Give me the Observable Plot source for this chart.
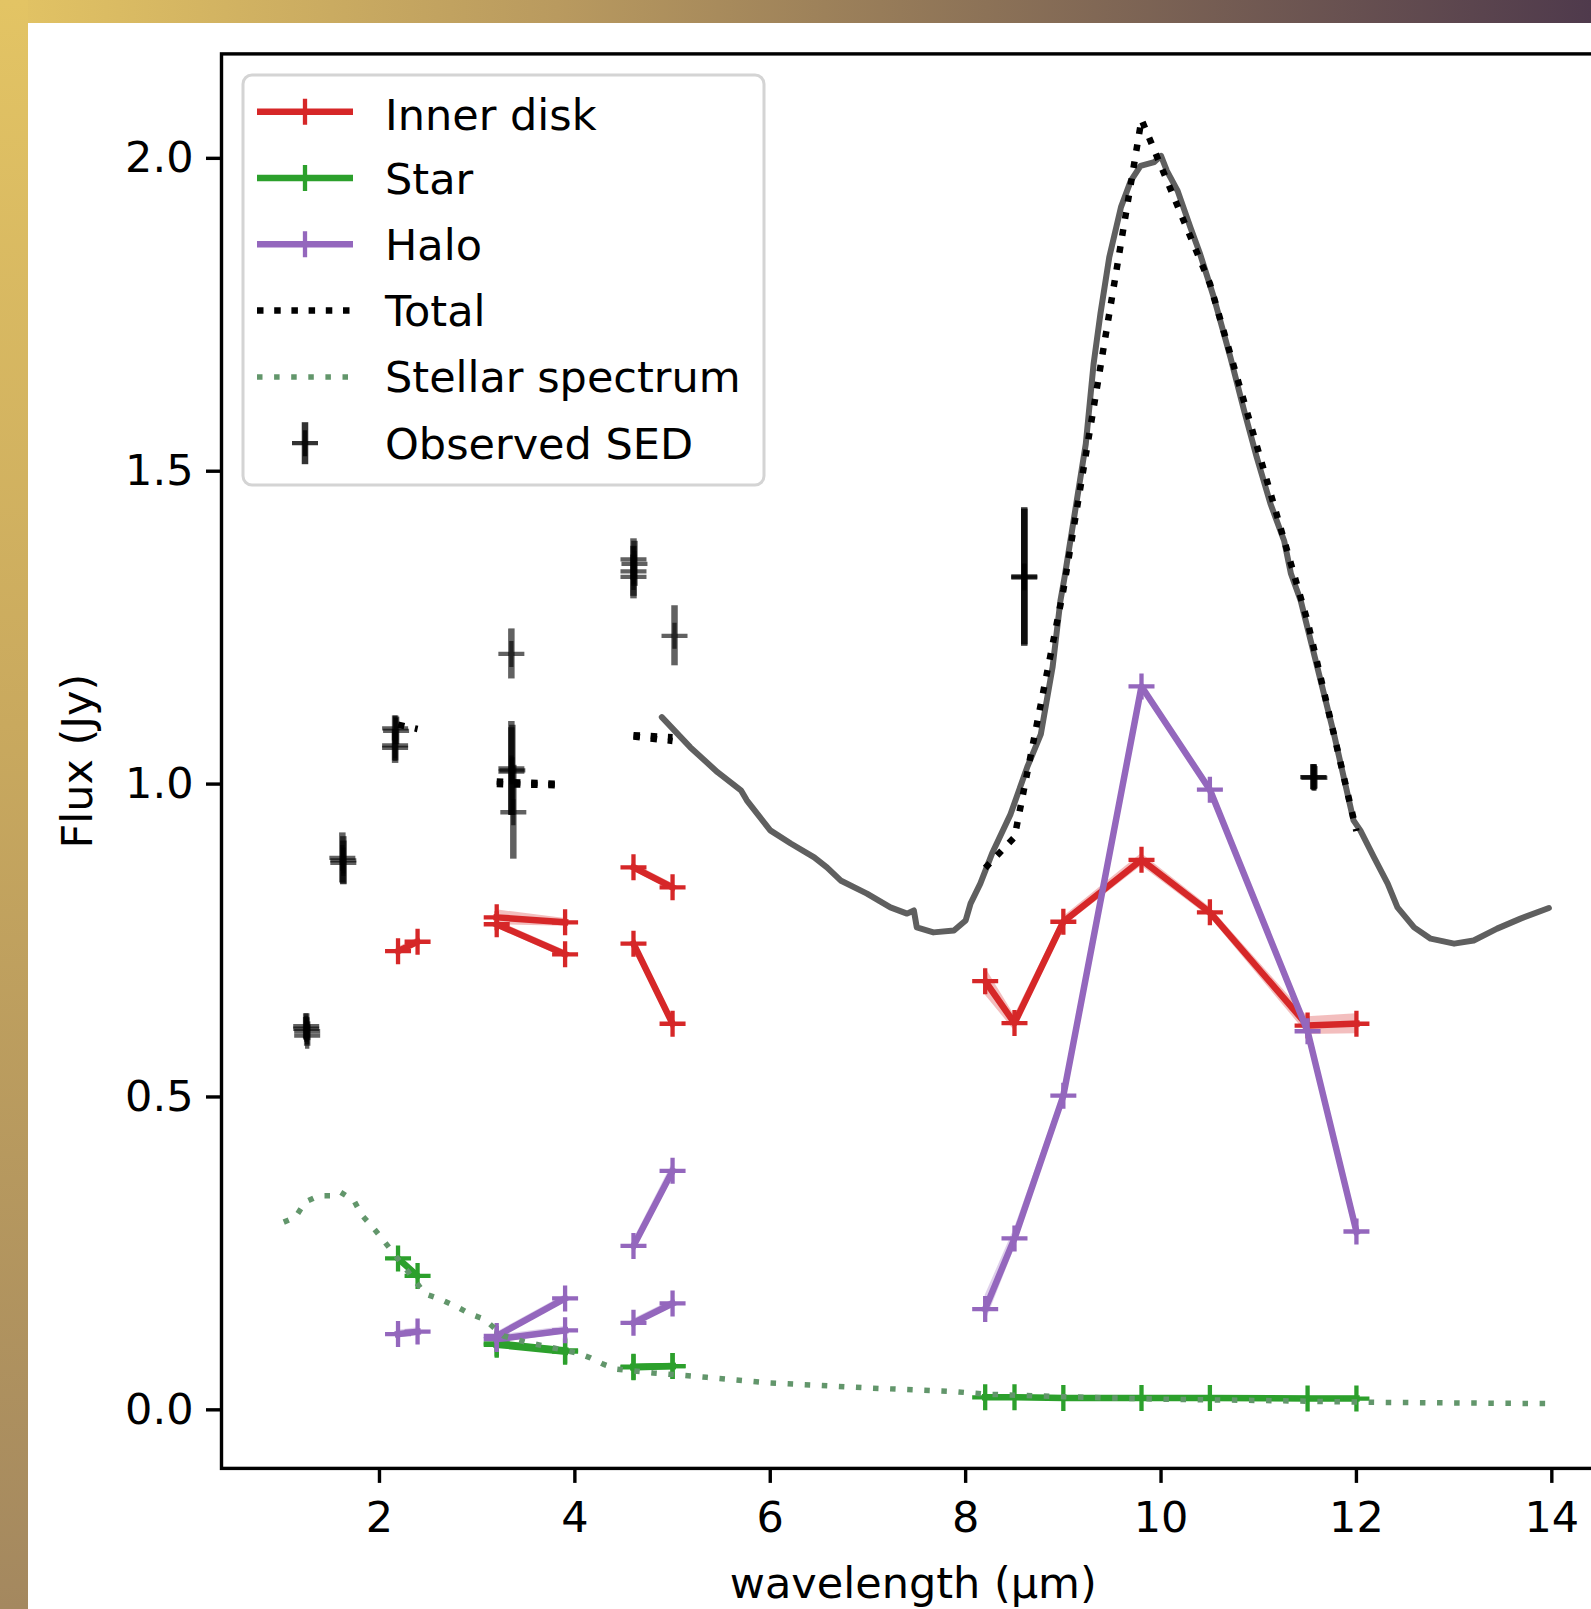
<!DOCTYPE html>
<html>
<head>
<meta charset="utf-8">
<script src="https://cdn.jsdelivr.net/npm/d3@7"></script>
<script src="https://cdn.jsdelivr.net/npm/@observablehq/plot@0.6"></script>
<style>
  html, body { margin: 0; padding: 0; background: #fff; overflow: hidden; width: 1591px; height: 1609px; }
  #wrap { position: relative; width: 1591px; height: 1609px; overflow: hidden; background: #fff; }
  #chart { position: absolute; left: 0; top: 0; width: 1650px; height: 1609px; }
  #chart svg { max-width: none !important; width: 1650px; height: 1609px; }
  #overlay { position: absolute; left: 0; top: 0; pointer-events: none; }
  #topbar { position: absolute; left: 0; top: 0; width: 1591px; height: 23px; z-index: 5;
            background: linear-gradient(to right, #e3c464 0%, #b99a5f 35%, #8c7257 62%, #4f3a4c 100%); }
  #leftbar { position: absolute; left: 0; top: 0; width: 28px; height: 1609px; z-index: 6;
             background: linear-gradient(to bottom, #e3c464 0%, #c9a95e 45%, #a4885f 100%); }
</style>
</head>
<body>
<div id="wrap">
  <div id="chart"></div>
  <svg id="overlay" width="1591" height="1609"></svg>
  <div id="topbar"></div>
  <div id="leftbar"></div>
</div>
<script>
// ---------------- DATA ----------------
// Wavelength grids of the model bands (µm)
const wlK = [2.19, 2.39];
const wlL = [3.2, 3.9];
const wlM = [4.6, 5.0];
const wlN = [8.2, 8.5, 9.0, 9.8, 10.5, 11.5, 12.0];

// Inner disk flux (Jy) and half-width of the shaded band
const innerK = [0.733, 0.748];
const innerLa = [0.787, 0.779];
const innerLb = [0.776, 0.728];
const innerMa = [0.867, 0.835];
const innerMb = [0.745, 0.617];
const innerN = [0.685, 0.618, 0.780, 0.879, 0.795, 0.614, 0.617];
const innerKErr = [0.006, 0.006];
const innerLaErr = [0.012, 0.006];
const innerLbErr = [0.006, 0.006];
const innerMaErr = [0.006, 0.006];
const innerMbErr = [0.006, 0.008];
const innerNErr = [0.022, 0.012, 0.008, 0.010, 0.008, 0.014, 0.016];

// Star flux (Jy)
const starK = [0.242, 0.214];
const starLa = [0.106, 0.095];
const starLb = [0.104, 0.093];
const starMa = [0.068, 0.070];
const starMb = [0.069, 0.070];
const starN = [0.020, 0.020, 0.019, 0.019, 0.019, 0.018, 0.018];
const starErr2 = [0.004, 0.004];
const starNErr = [0.004, 0.004, 0.004, 0.004, 0.004, 0.004, 0.004];

// Halo flux (Jy)
const haloK = [0.121, 0.125];
const haloLa = [0.113, 0.127];
const haloLb = [0.118, 0.178];
const haloMa = [0.139, 0.170];
const haloMb = [0.262, 0.382];
const haloN = [0.161, 0.274, 0.502, 1.156, 0.991, 0.605, 0.285];
const haloErr2 = [0.006, 0.006];
const haloMbErr = [0.010, 0.012];
const haloNErr = [0.022, 0.016, 0.008, 0.008, 0.006, 0.006, 0.006];

// Total model (Jy)
const totalK = [1.095, 1.088];
const totalLa = [1.004, 1.000];
const totalLb = [1.000, 0.998];
const totalMa = [1.078, 1.075];
const totalMb = [1.076, 1.069];
const totalN = [0.866, 0.915, 1.310, 2.062, 1.800, 1.260, 0.925];

// Stellar spectrum (dotted)
const stelWl = [1.02, 1.14, 1.24, 1.38, 1.50, 1.60, 1.74, 1.82, 1.93, 2.03, 2.47, 2.62, 2.80, 2.93, 3.07,
                3.27, 3.50, 3.75, 4.02, 4.16, 4.29, 4.43, 4.80, 5.20, 5.35, 6.00, 7.00, 7.90, 8.20, 9.00,
                10.00, 11.00, 12.20, 13.00, 14.00];
const stelFlux = [0.300, 0.308, 0.332, 0.342, 0.342, 0.348, 0.334, 0.311, 0.292, 0.273, 0.185, 0.177, 0.164, 0.153, 0.145,
                  0.118, 0.108, 0.100, 0.091, 0.083, 0.073, 0.065, 0.059, 0.054, 0.052, 0.043, 0.035, 0.029, 0.025, 0.021,
                  0.017, 0.015, 0.012, 0.011, 0.010];

// Observed mid-IR spectrum (grey line)
const specWl = [4.89, 5.18, 5.46, 5.70, 5.76, 5.87, 6.00, 6.21, 6.45, 6.58, 6.72, 6.99, 7.23, 7.40, 7.47, 7.50,
                7.67, 7.88, 8.00, 8.05, 8.15, 8.27, 8.46, 8.63, 8.77, 8.89, 8.97, 9.01, 9.11, 9.23, 9.31,
                9.38, 9.47, 9.59, 9.69, 9.79, 9.93, 10.00, 10.06, 10.17, 10.30, 10.40, 10.54, 10.71, 10.85,
                10.98, 11.12, 11.26, 11.33, 11.43, 11.77, 11.97, 12.04, 12.18, 12.32, 12.42, 12.59, 12.76,
                13.00, 13.20, 13.44, 13.68, 13.97];
const specFlux = [1.107, 1.059, 1.019, 0.990, 0.974, 0.952, 0.926, 0.905, 0.883, 0.867, 0.846, 0.825, 0.803, 0.793, 0.798, 0.771,
                  0.763, 0.766, 0.782, 0.809, 0.841, 0.889, 0.952, 1.027, 1.080, 1.187, 1.293, 1.328, 1.426, 1.544, 1.672,
                  1.752, 1.842, 1.922, 1.964, 1.988, 1.994, 2.004, 1.980, 1.948, 1.890, 1.847, 1.778, 1.682, 1.597,
                  1.522, 1.448, 1.389, 1.336, 1.293, 1.080, 0.942, 0.926, 0.883, 0.841, 0.803, 0.771, 0.753,
                  0.745, 0.750, 0.769, 0.785, 0.802];

// Observed SED photometry (µm, Jy, 1σ) — repeated epochs overlap and look darker
const sedWl   = [1.25, 1.26, 1.26, 1.25,
                 1.62, 1.63, 1.63,
                 2.16, 2.16, 2.16, 2.17,
                 3.35,
                 3.35, 3.35, 3.36,
                 3.37,
                 4.60, 4.60, 4.60, 4.61,
                 5.02,
                 8.60, 8.60, 8.60,
                 11.56, 11.56, 11.57];
const sedFlux = [0.613, 0.598, 0.605, 0.609,
                 0.882, 0.874, 0.878,
                 1.089, 1.062, 1.058, 1.085,
                 1.208,
                 1.025, 1.020, 1.022,
                 0.955,
                 1.359, 1.340, 1.331, 1.352,
                 1.237,
                 1.332, 1.330, 1.331,
                 1.011, 1.011, 1.010];
const sedErr  = [0.020, 0.017, 0.015, 0.018,
                 0.040, 0.035, 0.038,
                 0.020, 0.025, 0.025, 0.022,
                 0.040,
                 0.075, 0.070, 0.072,
                 0.075,
                 0.033, 0.040, 0.035, 0.036,
                 0.048,
                 0.110, 0.110, 0.108,
                 0.020, 0.020, 0.018];

// Axis ticks
const xTicks = [2, 4, 6, 8, 10, 12, 14];
const yTicks = [0, 0.5, 1.0, 1.5, 2.0];

// Legend labels
const legendLabels = ["Inner disk", "Star", "Halo", "Total", "Stellar spectrum", "Observed SED"];

// ---------------- BUILD TABLES ----------------
function rowsOf(segments, name) {
  const rows = [];
  segments.forEach(([xs, ys, es], i) => {
    xs.forEach((x, j) => {
      const e = es ? es[j] : 0;
      rows.push({x, y: ys[j], lo: ys[j] - e, hi: ys[j] + e, seg: name + i});
    });
  });
  return rows;
}
const innerRows = rowsOf([[wlK, innerK, innerKErr], [wlL, innerLa, innerLaErr], [wlL, innerLb, innerLbErr],
                          [wlM, innerMa, innerMaErr], [wlM, innerMb, innerMbErr], [wlN, innerN, innerNErr]], "inner");
const starRows = rowsOf([[wlK, starK, starErr2], [wlL, starLa, starErr2], [wlL, starLb, starErr2],
                         [wlM, starMa, starErr2], [wlM, starMb, starErr2], [wlN, starN, starNErr]], "star");
const haloRows = rowsOf([[wlK, haloK, haloErr2], [wlL, haloLa, haloErr2], [wlL, haloLb, haloErr2],
                         [wlM, haloMa, haloErr2], [wlM, haloMb, haloMbErr], [wlN, haloN, haloNErr]], "halo");
const totalRows = rowsOf([[wlK, totalK], [wlL, totalLa], [wlL, totalLb], [wlM, totalMa], [wlM, totalMb], [wlN, totalN]], "total");
const stelRows = stelWl.map((x, i) => ({x, y: stelFlux[i]}));
const specRows = specWl.map((x, i) => ({x, y: specFlux[i]}));
const sedRows = sedWl.map((x, i) => ({x, y: sedFlux[i], lo: sedFlux[i] - sedErr[i], hi: sedFlux[i] + sedErr[i]}));

// matplotlib-like "+" marker (stroked)
const plusSymbol = {
  draw(context, size) {
    const r = Math.sqrt(size / Math.PI);
    context.moveTo(-r, 0); context.lineTo(r, 0);
    context.moveTo(0, -r); context.lineTo(0, r);
  }
};

const RED = "#d62728", GREEN = "#2ca02c", PURPLE = "#9467bd";
const STEL = "#62966b";
const LW = 6.5, MS = 13, MEW = 4.3;
const FONT = "DejaVu Sans, Liberation Sans, sans-serif";

function component(rows, color) {
  return [
    Plot.areaY(rows, {x: "x", y1: "lo", y2: "hi", z: "seg", fill: color, fillOpacity: 0.3, curve: "linear"}),
    Plot.line(rows, {x: "x", y: "y", z: "seg", stroke: color, strokeWidth: LW, strokeLinejoin: "round", strokeLinecap: "square"}),
    Plot.dot(rows, {x: "x", y: "y", symbol: plusSymbol, r: MS, stroke: color, strokeWidth: MEW, fill: "none"})
  ];
}

// Frame geometry (axes box extends past the right edge, as in the reference)
const W = 1650, H = 1609;
const mLeft = 221, mRight = 38.4, mTop = 53.4, mBottom = 141.1;

const chart = Plot.plot({
  width: W, height: H,
  marginLeft: mLeft, marginRight: mRight, marginTop: mTop, marginBottom: mBottom,
  x: {domain: [0.383, 14.617]},
  y: {domain: [-0.0936, 2.1669]},
  style: {fontFamily: FONT, fontSize: "43px", background: "transparent", color: "#000", overflow: "visible", maxWidth: "none"},
  marks: [
    Plot.line(specRows, {x: "x", y: "y", stroke: "#5f5f5f", strokeWidth: 6, strokeLinejoin: "round"}),
    ...component(innerRows, RED),
    ...component(starRows, GREEN),
    ...component(haloRows, PURPLE),
    Plot.line(totalRows, {x: "x", y: "y", z: "seg", stroke: "#000", strokeWidth: LW, strokeDasharray: "6.5,10.7", strokeLinecap: "butt"}),
    Plot.line(stelRows, {x: "x", y: "y", stroke: STEL, strokeWidth: 5.5, strokeDasharray: "5.5,11.6", strokeLinecap: "butt"}),
    Plot.ruleX(sedRows, {x: "x", y1: "lo", y2: "hi", stroke: "#000", strokeWidth: LW, strokeOpacity: 0.62}),
    Plot.dot(sedRows, {x: "x", y: "y", symbol: plusSymbol, r: MS, stroke: "#000", strokeWidth: MEW, strokeOpacity: 0.62, fill: "none"}),
    Plot.frame({stroke: "#000", strokeWidth: 3.4}),
    Plot.axisX({ticks: xTicks, tickSize: 15, tickPadding: 18, strokeWidth: 3.4, tickFormat: d3.format("d"),
                fontSize: 43, label: null, fill: "#000"}),
    Plot.axisY({ticks: yTicks, tickSize: 15, tickPadding: 13, strokeWidth: 3.4, tickFormat: d3.format(".1f"),
                fontSize: 43, label: null, fill: "#000"}),
    Plot.text(["wavelength (µm)"], {frameAnchor: "bottom", lineAnchor: "bottom", textAnchor: "middle",
                                    dy: 130, dx: -3.5, fontSize: 43, fill: "#000"}),
    Plot.text(["Flux (Jy)"], {frameAnchor: "left", textAnchor: "middle", lineAnchor: "middle",
                              rotate: -90, dx: -143, fontSize: 43, fill: "#000"})
  ]
});
chart.style.maxWidth = "none";
chart.style.width = W + "px";
chart.style.height = H + "px";
document.getElementById("chart").append(chart);

// ---------------- LEGEND (inside axes, upper left) ----------------
const ov = d3.select("#overlay");
const lg = ov.append("g").style("font-family", FONT);
lg.append("rect").attr("x", 243).attr("y", 75).attr("width", 521).attr("height", 410)
  .attr("rx", 9).attr("fill", "#fff").attr("fill-opacity", 0.8)
  .attr("stroke", "#d4d4d4").attr("stroke-width", 3);
const hx0 = 257, hx1 = 353, hmx = 305, tx = 385, row0 = 111.7, rowStep = 66.3;
const handleStyles = [
  {type: "line", color: RED},
  {type: "line", color: GREEN},
  {type: "line", color: PURPLE},
  {type: "dotted", color: "#000", w: LW, dash: "6.5,10.7"},
  {type: "dotted", color: STEL, w: 5.5, dash: "5.5,11.6"},
  {type: "err", color: "#000"}
];
legendLabels.forEach((label, i) => {
  const y = row0 + i * rowStep;
  const s = handleStyles[i];
  if (s.type === "line") {
    lg.append("line").attr("x1", hx0).attr("x2", hx1).attr("y1", y).attr("y2", y)
      .attr("stroke", s.color).attr("stroke-width", LW);
    lg.append("path").attr("d", `M${hmx - MS},${y}H${hmx + MS}M${hmx},${y - MS}V${y + MS}`)
      .attr("stroke", s.color).attr("stroke-width", MEW).attr("fill", "none");
  } else if (s.type === "dotted") {
    lg.append("line").attr("x1", hx0).attr("x2", hx1).attr("y1", y).attr("y2", y)
      .attr("stroke", s.color).attr("stroke-width", s.w).attr("stroke-dasharray", s.dash);
  } else {
    lg.append("line").attr("x1", hmx).attr("x2", hmx).attr("y1", y - 21).attr("y2", y + 21)
      .attr("stroke", s.color).attr("stroke-width", LW).attr("stroke-opacity", 0.8);
    lg.append("path").attr("d", `M${hmx - MS},${y}H${hmx + MS}M${hmx},${y - MS}V${y + MS}`)
      .attr("stroke", s.color).attr("stroke-width", MEW).attr("stroke-opacity", 0.8).attr("fill", "none");
  }
  lg.append("text").attr("x", tx).attr("y", y + (i === 0 ? 18 : 15.5)).attr("font-size", 43).attr("fill", "#000").text(label);
});
</script>
</body>
</html>
